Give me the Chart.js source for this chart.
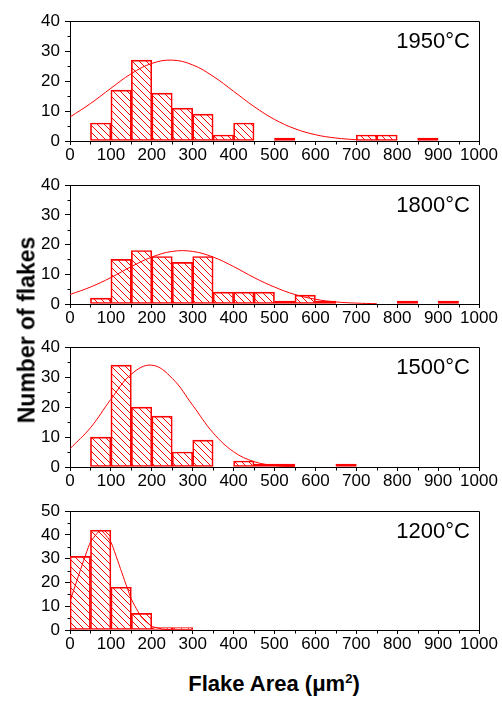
<!DOCTYPE html>
<html lang="en">
<head>
    <meta charset="UTF-8">
    <title>Flake area histograms</title>
    <script src="https://cdn.jsdelivr.net/npm/chart.js@4.4.0/dist/chart.umd.min.js"></script>
    <style>
        body {
            margin: 0;
            background: #ffffff;
            font-family: "Liberation Sans", Arial, sans-serif;
        }
        .wrap {
            position: relative;
            width: 502px;
            height: 702px;
        }
        canvas {
            position: absolute;
            left: 0;
        }
        .xtitle {
            position: absolute;
            left: 124px;
            width: 300px;
            top: 671px;
            text-align: center;
            font-weight: bold;
            font-size: 22px;
            color: #000;
        }
        .xtitle sup {
            font-size: 13px;
            line-height: 0;
        }
        .ytitle {
            position: absolute;
            left: 27px;
            top: 330px;
            transform: translate(-50%, -50%) rotate(-90deg);
            white-space: nowrap;
            font-weight: bold;
            font-size: 23px;
            color: #000;
        }
    </style>
</head>
<body>
<div class="wrap">
    <canvas id="p1950" width="502" height="163" style="top:6px"></canvas>
    <canvas id="p1800" width="502" height="162" style="top:170px"></canvas>
    <canvas id="p1500" width="502" height="163" style="top:332px"></canvas>
    <canvas id="p1200" width="502" height="162" style="top:496px"></canvas>
    <div class="ytitle">Number of flakes</div>
    <div class="xtitle">Flake Area (μm<sup>2</sup>)</div>
</div>

<script>
    // bin centres (bin width 50 µm²)
    const binCenters = [25, 75, 125, 175, 225, 275, 325, 375, 425, 475,
                        525, 575, 625, 675, 725, 775, 825, 875, 925, 975];

    // counts per bin
    const counts1950 = [0, 6, 17, 27, 16, 11, 9, 2, 6, 0, 1, 0, 0, 0, 2, 2, 0, 1, 0, 0];
    const counts1800 = [0, 2, 15, 18, 16, 14, 16, 4, 4, 4, 1, 3, 1, 0, 0, 0, 1, 0, 1, 0];
    const counts1500 = [0, 10, 34, 20, 17, 5, 9, 0, 2, 1, 1, 0, 0, 1, 0, 0, 0, 0, 0, 0];
    const counts1200 = [31, 42, 18, 7, 1, 1, 0, 0, 0, 0, 0, 0, 0, 0, 0, 0, 0, 0, 0, 0];

    // fitted curves, points
    const fitX1950 = [0, 50, 100, 150, 200, 250, 300, 350, 400, 450, 500, 550, 600, 650, 700];
    const fitY1950 = [8.0, 12.5, 17.6, 22.5, 25.9, 27.0, 25.4, 21.6, 16.6, 11.5, 7.2, 4.1, 2.1, 1.0, 0.4];
    const fitX1800 = [0, 50, 100, 150, 200, 250, 300, 350, 400, 450, 500, 550, 600, 650, 700, 750];
    const fitY1800 = [3.2, 5.7, 8.9, 12.6, 15.8, 17.7, 17.7, 15.8, 12.6, 8.9, 5.7, 3.2, 1.6, 0.7, 0.3, 0.1];
    const fitX1500 = [0, 50, 100, 150, 200, 250, 300, 350, 400, 450, 500, 550];
    const fitY1500 = [6.1, 13.1, 22.6, 31.0, 34.0, 29.6, 20.6, 11.4, 5.1, 1.8, 0.5, 0.1];
    const fitX1200 = [0, 25, 50, 75, 100, 125, 150, 175, 200, 225, 250, 275, 300];
    const fitY1200 = [12, 25, 37, 42, 37, 25, 13, 5.3, 1.6, 0.4, 0.1, 0, 0];

    const xTicks = [0, 100, 200, 300, 400, 500, 600, 700, 800, 900, 1000];
    const xMinorTicks = [50, 150, 250, 350, 450, 550, 650, 750, 850, 950];
    const yTicks40 = [0, 10, 20, 30, 40];
    const yTicks50 = [0, 10, 20, 30, 40, 50];
    const yMinor40 = [5, 15, 25, 35];
    const yMinor50 = [5, 15, 25, 35, 45];

    const RED = '#ff0000';
    const FONT = '"Liberation Sans", Arial, sans-serif';

    function hatchPattern(ctx) {
        const c = document.createElement('canvas');
        c.width = 7;
        c.height = 7;
        const g = c.getContext('2d');
        g.strokeStyle = RED;
        g.lineWidth = 1;
        g.beginPath();
        g.moveTo(-1, -1); g.lineTo(8, 8);
        g.moveTo(-1, 6); g.lineTo(1, 8);
        g.moveTo(6, -1); g.lineTo(8, 1);
        g.stroke();
        return ctx.createPattern(c, 'repeat');
    }

    // frame, minor ticks and the temperature label
    const decorPlugin = {
        id: 'decor',
        afterDraw(chart, args, opts) {
            const ctx = chart.ctx;
            const a = chart.chartArea;
            const xs = chart.scales.x, ys = chart.scales.y;
            ctx.save();
            ctx.strokeStyle = '#000';
            ctx.lineWidth = 1;
            ctx.beginPath();
            const L = Math.round(a.left) + 0.5, R = Math.round(a.right) + 0.5;
            const T = Math.round(a.top) + 0.5, B = Math.round(a.bottom) + 0.5;
            ctx.moveTo(L, T); ctx.lineTo(R, T); ctx.lineTo(R, B);
            xMinorTicks.forEach(v => {
                const px = Math.round(xs.getPixelForValue(v)) + 0.5;
                ctx.moveTo(px, B); ctx.lineTo(px, B + 3);
            });
            opts.yMinor.forEach(v => {
                const py = Math.round(ys.getPixelForValue(v)) + 0.5;
                ctx.moveTo(L, py); ctx.lineTo(L - 3, py);
            });
            ctx.stroke();
            ctx.fillStyle = '#000';
            ctx.font = '22px ' + FONT;
            ctx.textAlign = 'right';
            ctx.textBaseline = 'middle';
            ctx.fillText(opts.label, a.right - 9, a.top + 21);
            ctx.restore();
        }
    };

    function makePanel(id, counts, fitX, fitY, yMax, yTicks, yMinor, label, tension) {
        const canvas = document.getElementById(id);
        const ctx = canvas.getContext('2d');
        new Chart(ctx, {
            type: 'bar',
            data: {
                datasets: [{
                    type: 'line',
                    data: fitX.map((x, i) => ({ x: x, y: fitY[i] })),
                    borderColor: RED,
                    borderWidth: 1,
                    pointRadius: 0,
                    tension: tension,
                    fill: false,
                    order: 0
                }, {
                    type: 'bar',
                    data: binCenters.map((x, i) => ({ x: x, y: counts[i] || null })),
                    backgroundColor: hatchPattern(ctx),
                    borderColor: RED,
                    borderWidth: 1,
                    borderSkipped: false,
                    barPercentage: 1,
                    categoryPercentage: 1,
                    order: 1
                }]
            },
            options: {
                responsive: false,
                animation: false,
                layout: { padding: { top: 10, right: 23, left: 0, bottom: 0 } },
                plugins: {
                    legend: { display: false },
                    tooltip: { enabled: false },
                    decor: { label: label, yMinor: yMinor }
                },
                scales: {
                    x: {
                        type: 'linear',
                        min: 0,
                        max: 1000,
                        offset: false,
                        afterBuildTicks: s => { s.ticks = xTicks.map(v => ({ value: v })); },
                        afterFit: s => { s.height = 28; },
                        grid: { drawOnChartArea: false, tickLength: 4, color: '#000', offset: false },
                        border: { color: '#000', width: 1 },
                        ticks: {
                            color: '#000',
                            font: { family: FONT, size: 17 },
                            padding: 0,
                            maxRotation: 0,
                            autoSkip: false,
                            callback: v => String(v)
                        }
                    },
                    y: {
                        min: 0,
                        max: yMax,
                        afterBuildTicks: s => { s.ticks = yTicks.map(v => ({ value: v })); },
                        afterFit: s => { s.width = 70; },
                        grid: { drawOnChartArea: false, tickLength: 5, color: '#000' },
                        border: { color: '#000', width: 1 },
                        ticks: {
                            color: '#000',
                            font: { family: FONT, size: 17 },
                            padding: 5,
                            callback: v => String(v)
                        }
                    }
                }
            },
            plugins: [decorPlugin]
        });
    }

    makePanel('p1950', counts1950, fitX1950, fitY1950, 40, yTicks40, yMinor40, '1950°C', 0.4);
    makePanel('p1800', counts1800, fitX1800, fitY1800, 40, yTicks40, yMinor40, '1800°C', 0.4);
    makePanel('p1500', counts1500, fitX1500, fitY1500, 40, yTicks40, yMinor40, '1500°C', 0.4);
    makePanel('p1200', counts1200, fitX1200, fitY1200, 50, yTicks50, yMinor50, '1200°C', 0.15);
</script>
</body>
</html>
